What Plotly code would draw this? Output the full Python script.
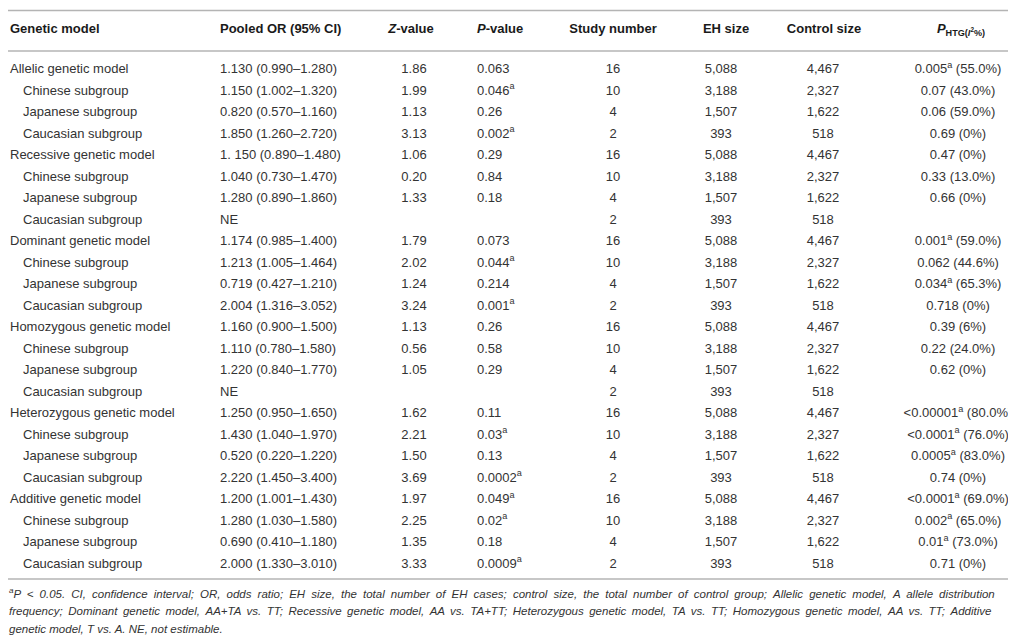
import plotly.graph_objects as go

## Table content ##
models = ["Allelic", "Recessive", "Dominant", "Homozygous", "Heterozygous", "Additive"]
subgroups = ["Chinese subgroup", "Japanese subgroup", "Caucasian subgroup"]

row_labels = []
for m in models:
    row_labels.append(m + " genetic model")
    row_labels.extend(subgroups)

pooled_or = [
    "1.130 (0.990–1.280)", "1.150 (1.002–1.320)", "0.820 (0.570–1.160)", "1.850 (1.260–2.720)",
    "1. 150 (0.890–1.480)", "1.040 (0.730–1.470)", "1.280 (0.890–1.860)", "NE",
    "1.174 (0.985–1.400)", "1.213 (1.005–1.464)", "0.719 (0.427–1.210)", "2.004 (1.316–3.052)",
    "1.160 (0.900–1.500)", "1.110 (0.780–1.580)", "1.220 (0.840–1.770)", "NE",
    "1.250 (0.950–1.650)", "1.430 (1.040–1.970)", "0.520 (0.220–1.220)", "2.220 (1.450–3.400)",
    "1.200 (1.001–1.430)", "1.280 (1.030–1.580)", "0.690 (0.410–1.180)", "2.000 (1.330–3.010)",
]
z_value = [
    "1.86", "1.99", "1.13", "3.13",
    "1.06", "0.20", "1.33", "",
    "1.79", "2.02", "1.24", "3.24",
    "1.13", "0.56", "1.05", "",
    "1.62", "2.21", "1.50", "3.69",
    "1.97", "2.25", "1.35", "3.33",
]
p_value = [
    "0.063", "0.046<sup>a</sup>", "0.26", "0.002<sup>a</sup>",
    "0.29", "0.84", "0.18", "",
    "0.073", "0.044<sup>a</sup>", "0.214", "0.001<sup>a</sup>",
    "0.26", "0.58", "0.29", "",
    "0.11", "0.03<sup>a</sup>", "0.13", "0.0002<sup>a</sup>",
    "0.049<sup>a</sup>", "0.02<sup>a</sup>", "0.18", "0.0009<sup>a</sup>",
]
study_number = ["16", "10", "4", "2"] * 6
eh_size = ["5,088", "3,188", "1,507", "393"] * 6
control_size = ["4,467", "2,327", "1,622", "518"] * 6
p_htg = [
    "0.005<sup>a</sup> (55.0%)", "0.07 (43.0%)", "0.06 (59.0%)", "0.69 (0%)",
    "0.47 (0%)", "0.33 (13.0%)", "0.66 (0%)", "",
    "0.001<sup>a</sup> (59.0%)", "0.062 (44.6%)", "0.034<sup>a</sup> (65.3%)", "0.718 (0%)",
    "0.39 (6%)", "0.22 (24.0%)", "0.62 (0%)", "",
    "&lt;0.00001<sup>a</sup> (80.0%)", "&lt;0.0001<sup>a</sup> (76.0%)", "0.0005<sup>a</sup> (83.0%)", "0.74 (0%)",
    "&lt;0.0001<sup>a</sup> (69.0%)", "0.002<sup>a</sup> (65.0%)", "0.01<sup>a</sup> (73.0%)", "0.71 (0%)",
]

headers = [
    "Genetic model", "Pooled OR (95% CI)", "<i>Z</i>-value", "<i>P</i>-value",
    "Study number", "EH size", "Control size",
    "<i>P</i><sub>HTG(<i>I</i><sup>2</sup>%)</sub>",
]

footnote = [
    "<sup>a</sup>P &lt; 0.05. CI, confidence interval; OR, odds ratio; EH size, the total number of EH cases; "
    "control size, the total number of control group; Allelic genetic model, A allele distribution",
    "frequency; Dominant genetic model, AA+TA vs. TT; Recessive genetic model, AA vs. TA+TT; "
    "Heterozygous genetic model, TA vs. TT; Homozygous genetic model, AA vs. TT; Additive",
    "genetic model, T vs. A. NE, not estimable.",
]

# layout helpers (pixel-like x, row units for y)
W, H = 1016, 635
ROW0 = 62.0      # pixel y of first body row
ROW_H = 21.5     # row pitch
FONT = "Liberation Sans, Arial, sans-serif"
TXT = "#333333"
RULE = "#b4b4b4"


def px_to_row(py):
    return (py - ROW0) / ROW_H


n = len(row_labels)
rows = list(range(n))

fig = go.Figure()

# first column: model rows flush left, subgroups indented
is_sub = [i % 4 != 0 for i in rows]
fig.add_trace(go.Scatter(
    x=[15 if s else 2 for s in is_sub], y=rows, text=row_labels,
    mode="text", textposition="middle right",
    textfont=dict(family=FONT, size=13, color=TXT), hoverinfo="skip"))

# other columns: (values, x, position)
cols = [
    (pooled_or, 212, "middle right"),
    (z_value, 406, "middle center"),
    (p_value, 469, "middle right"),
    (study_number, 605, "middle center"),
    (eh_size, 713, "middle center"),
    (control_size, 815, "middle center"),
    (p_htg, 950, "middle center"),
]
for vals, cx, pos in cols:
    keep = [i for i in rows if vals[i]]
    fig.add_trace(go.Scatter(
        x=[cx] * len(keep), y=keep, text=[vals[i] for i in keep],
        mode="text", textposition=pos,
        textfont=dict(family=FONT, size=13, color=TXT), hoverinfo="skip"))

# header row
head_x = [2, 212, 403, 469, 605, 718, 816, 953]
head_pos = ["middle right", "middle right", "middle center", "middle right",
            "middle center", "middle center", "middle center", "middle center"]
hy = px_to_row(22)
for t, hx, hp in zip(headers, head_x, head_pos):
    fig.add_trace(go.Scatter(
        x=[hx], y=[hy], text=["<b>" + t + "</b>"], mode="text", textposition=hp,
        textfont=dict(family=FONT, size=13, color="#1a1a1a"), hoverinfo="skip"))

# footnote (first two lines spread out a little, like the justified original)
spread = [" \u2005", " \u2009", " "]
foot_lines = [f.replace(" ", sp) for f, sp in zip(footnote, spread)]
fy = [px_to_row(p) for p in (587, 604.5, 622)]
fig.add_trace(go.Scatter(
    x=[1] * 3, y=fy, text=["<i>" + f + "</i>" for f in foot_lines],
    mode="text", textposition="middle right",
    textfont=dict(family=FONT, size=11.5, color=TXT), hoverinfo="skip"))

# horizontal rules
for py in (2.5, 43, 571):
    fig.add_shape(type="line", xref="x", yref="y", x0=0, x1=W,
                  y0=px_to_row(py), y1=px_to_row(py),
                  line=dict(color=RULE, width=1.5))

fig.update_layout(
    width=W, height=H, margin=dict(l=0, r=0, t=0, b=0),
    paper_bgcolor="white", plot_bgcolor="white", showlegend=False,
    xaxis=dict(range=[0, W], visible=False, fixedrange=True),
    yaxis=dict(range=[px_to_row(H), px_to_row(0)], visible=False, fixedrange=True),
)

fig.write_html("out.html")
